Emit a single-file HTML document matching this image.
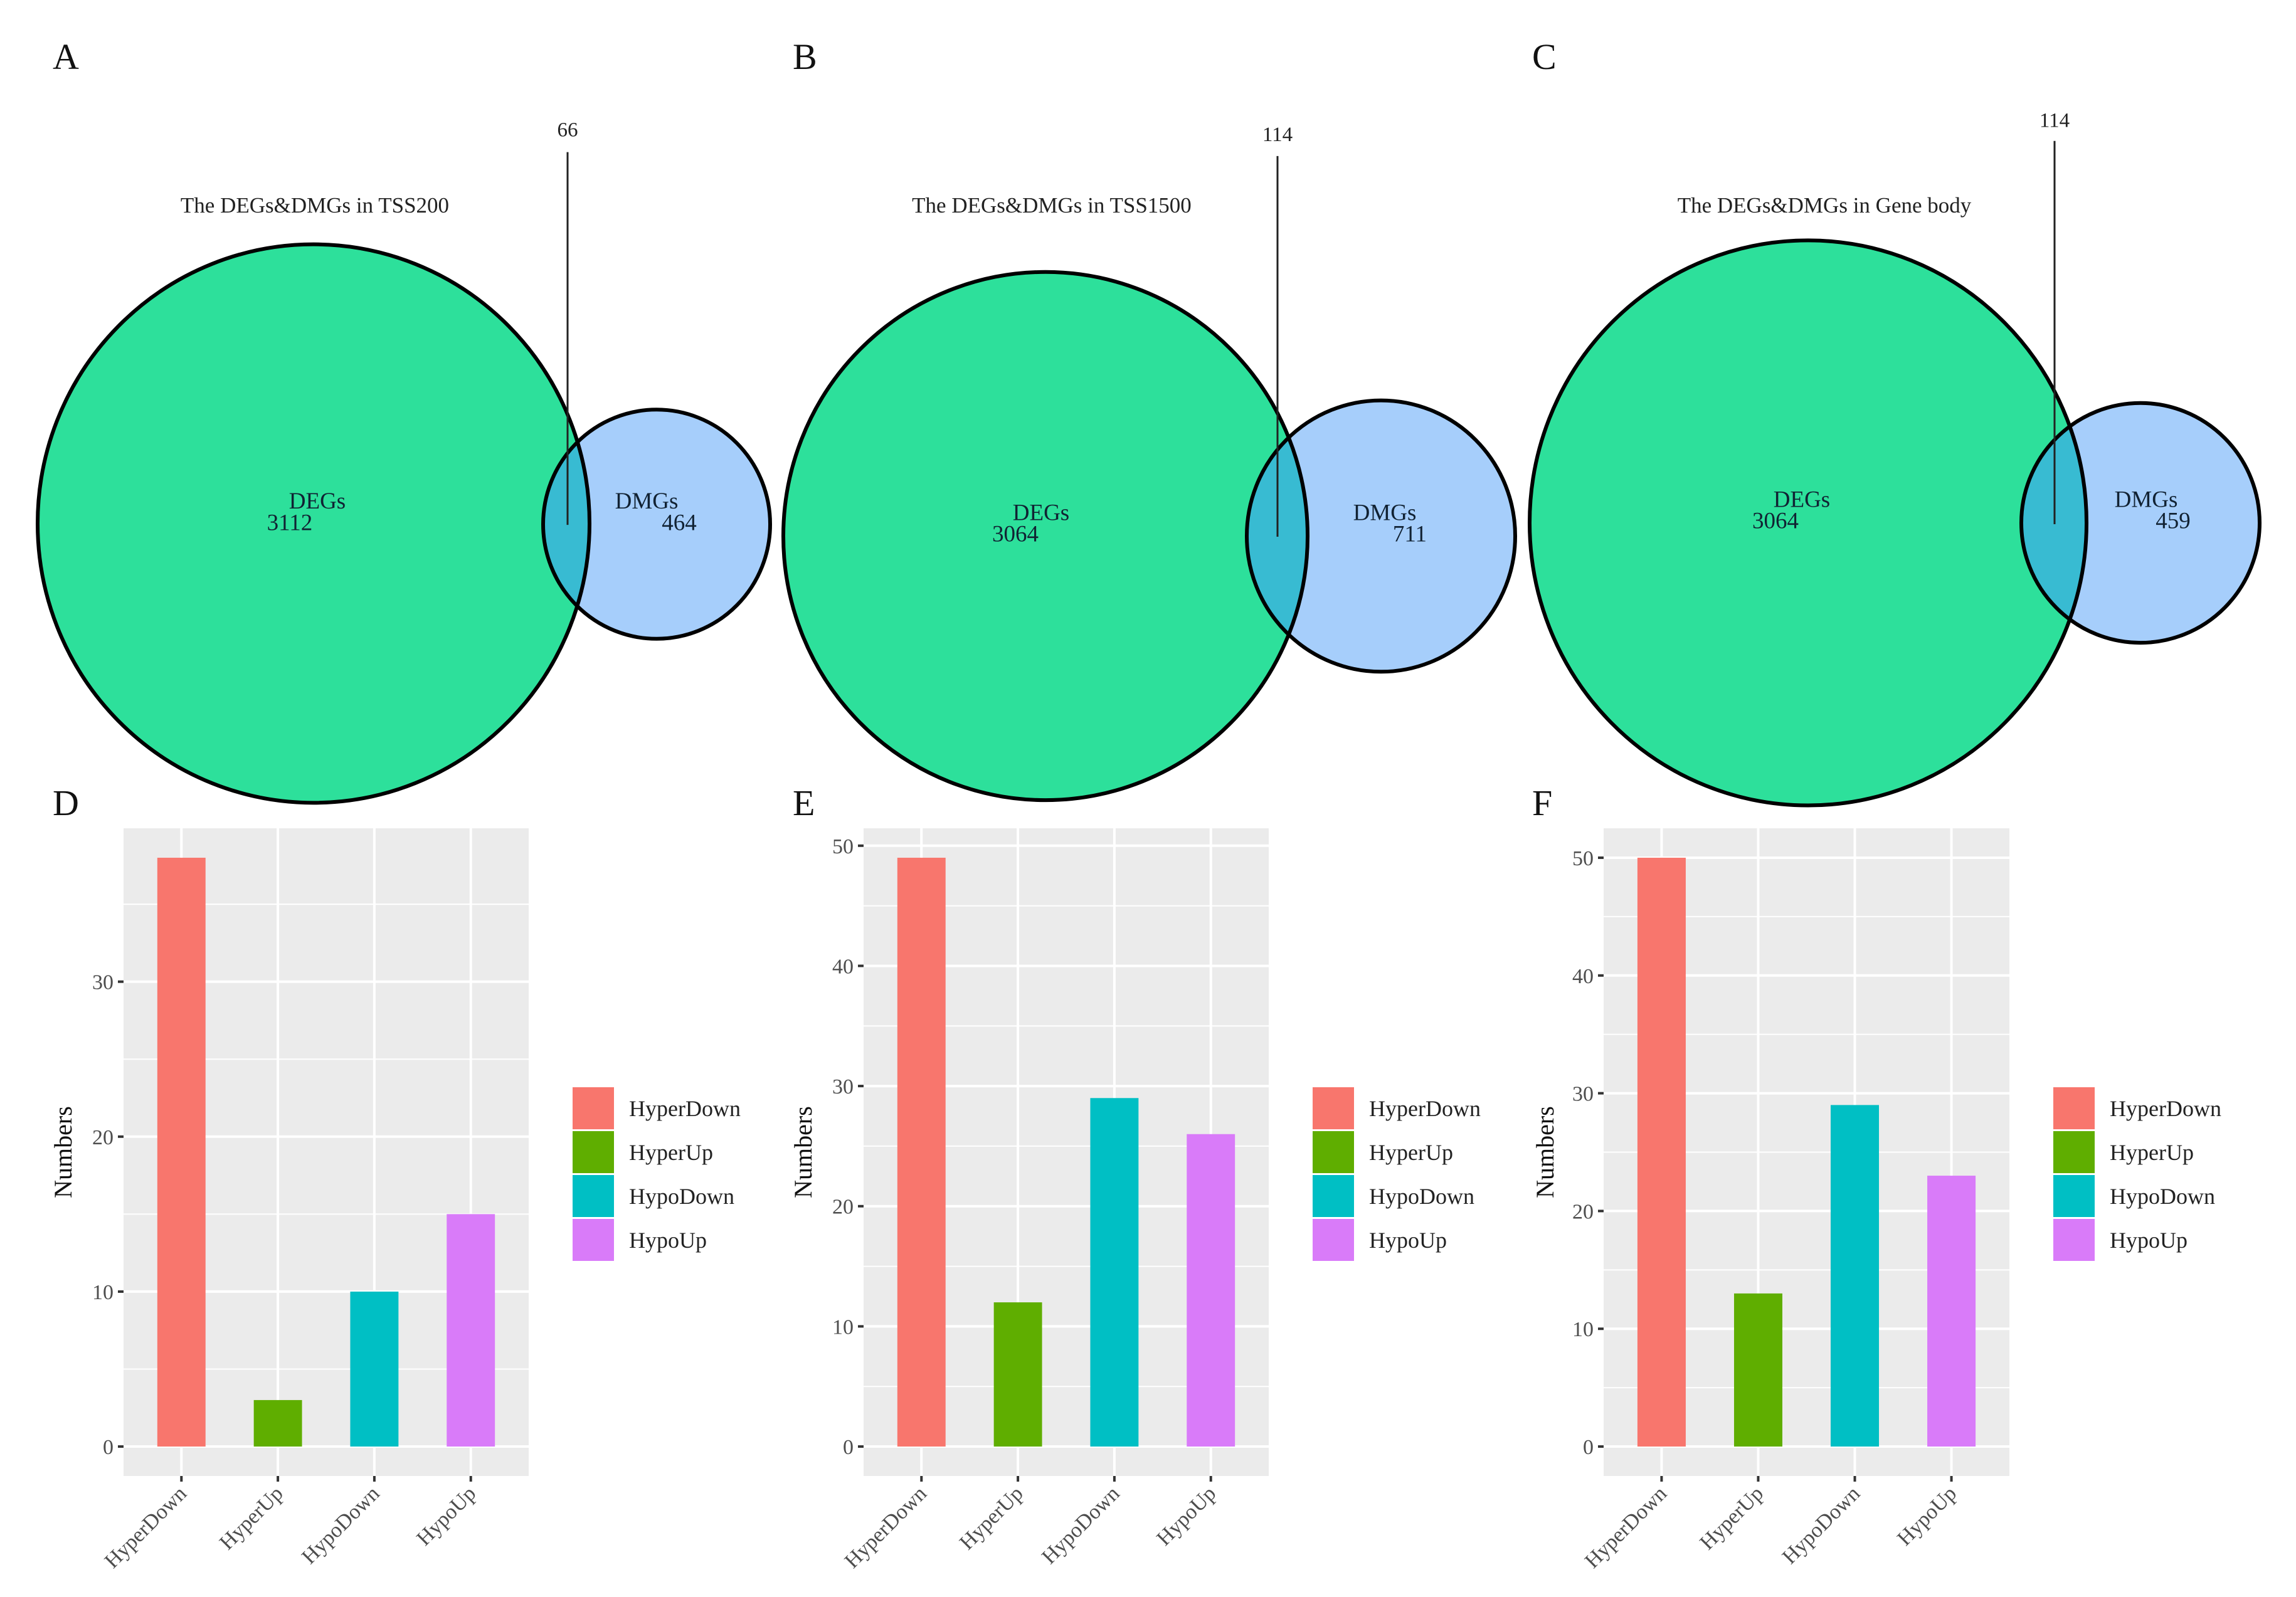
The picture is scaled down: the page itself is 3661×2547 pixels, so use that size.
<!DOCTYPE html>
<html><head><meta charset="utf-8"><style>
html,body{margin:0;padding:0;background:#fff;}
svg{display:block;font-family:"Liberation Serif",serif;}
</style></head><body>
<svg id="fig" width="3661" height="2547" viewBox="0 0 3661 2547" xmlns="http://www.w3.org/2000/svg">
<defs></defs>
</svg>
<script>
// Venn data
const vennTitles = ["The DEGs&DMGs in TSS200", "The DEGs&DMGs in TSS1500", "The DEGs&DMGs in Gene body"];
const vennDEGsOnly = [3112, 3064, 3064];
const vennDMGsOnly = [464, 711, 459];
const vennOverlap = [66, 114, 114];
// Bar data
const categories = ["HyperDown", "HyperUp", "HypoDown", "HypoUp"];
const valuesD = [38, 3, 10, 15];
const valuesE = [49, 12, 29, 26];
const valuesF = [50, 13, 29, 23];
const ticksD = [0, 10, 20, 30];
const ticksE = [0, 10, 20, 30, 40, 50];
const ticksF = [0, 10, 20, 30, 40, 50];
const colors = ["#F8766D", "#5FAE00", "#00BFC4", "#D97BF9"];

const NS = "http://www.w3.org/2000/svg";
const svg = document.getElementById('fig');
const defs = svg.querySelector('defs');
function mk(tag, attrs, parent) {
  const e = document.createElementNS(NS, tag);
  for (const k in attrs) e.setAttribute(k, attrs[k]);
  (parent || svg).appendChild(e);
  return e;
}
function txt(s, attrs, parent) { const t = mk('text', attrs, parent); t.textContent = s; return t; }

// panel letters
const letters = [["A",84,110],["B",1264,110],["C",2443,110],["D",84,1300],["E",1264,1300],["F",2443,1300]];
letters.forEach(l => {
  const t = txt(l[0], {x:l[1], y:l[2], 'font-size':58, fill:'#111'});
  
  
});

const SY = 1.0503;
const vennLayout = [
  {big:[500,795,440,424], small:[1047,796,181,174], line:[905,231,797], num:[905,207], title:[502,323], degs:[506,772], degN:[462,805], dmgs:[1031,772], dmgN:[1083,805]},
  {big:[1667,814,418,401], small:[2202,814,214,206], line:[2037,237,815], num:[2037,214], title:[1677,323], degs:[1660,790], degN:[1619,822], dmgs:[2208,790], dmgN:[2248,822]},
  {big:[2883,794,444,429], small:[3413,794,190,182], line:[3276,214,796], num:[3276,193], title:[2909,323], degs:[2873,770], degN:[2831,802], dmgs:[3422,770], dmgN:[3465,802]}
];
vennLayout.forEach((L, i) => {
  const g = mk('g', {});
  
  
  const bcy = L.big[1]*SY, bry = L.big[3]*SY, scy = L.small[1]*SY, sry = L.small[3]*SY;
  const cp = mk('clipPath', {id:'clip'+i}, defs);
  mk('ellipse', {cx:L.big[0], cy:bcy, rx:L.big[2], ry:bry}, cp);
  const b = mk('ellipse', {cx:L.big[0], cy:bcy, rx:L.big[2], ry:bry, fill:'#2DE09B'}, g);
  
  
  const s = mk('ellipse', {cx:L.small[0], cy:scy, rx:L.small[2], ry:sry, fill:'#A6CEFB'}, g);
  
  
  const o = mk('ellipse', {cx:L.small[0], cy:scy, rx:L.small[2], ry:sry, fill:'#38BBD2', 'clip-path':'url(#clip'+i+')'}, g);
  
  
  mk('ellipse', {cx:L.big[0], cy:bcy, rx:L.big[2], ry:bry, fill:'none', stroke:'#000', 'stroke-width':6}, g);
  mk('ellipse', {cx:L.small[0], cy:scy, rx:L.small[2], ry:sry, fill:'none', stroke:'#000', 'stroke-width':6}, g);
  const ln = mk('line', {x1:L.line[0], y1:L.line[1]*SY, x2:L.line[0], y2:L.line[2]*SY, stroke:'#222', 'stroke-width':3}, g);
  
  
  const n = txt(String(vennOverlap[i]), {x:L.num[0], y:L.num[1]*SY, 'font-size':33, 'text-anchor':'middle', fill:'#222'}, g);
  
  
  const t = txt(vennTitles[i], {x:L.title[0], y:L.title[1]*SY, 'font-size':35, 'text-anchor':'middle', fill:'#222'}, g);
  
  
  const d1 = txt('DEGs', {x:L.degs[0], y:L.degs[1]*SY, 'font-size':37, 'text-anchor':'middle', fill:'#123'}, g);
  
  
  const d2 = txt(String(vennDEGsOnly[i]), {x:L.degN[0], y:L.degN[1]*SY, 'font-size':37, 'text-anchor':'middle', fill:'#123'}, g);
  
  
  const m1 = txt('DMGs', {x:L.dmgs[0], y:L.dmgs[1]*SY, 'font-size':37, 'text-anchor':'middle', fill:'#123'}, g);
  
  
  const m2 = txt(String(vennDMGsOnly[i]), {x:L.dmgN[0], y:L.dmgN[1]*SY, 'font-size':37, 'text-anchor':'middle', fill:'#123'}, g);
  
  
});

// Bar charts
function barChart(name, px, pw, values, ticks, legX, ylabX) {
  const top = 1321, bot = 2354;
  const maxV = Math.max(...values);
  const vmax = maxV * 1.05, vmin = -maxV * 0.05;
  const y = v => bot - (v - vmin) / (vmax - vmin) * (bot - top);
  const step = pw / (categories.length - 1 + 1.2);
  const x = i => px + step * (0.6 + i);
  const g = mk('g', {});
  
  
  const bg = mk('rect', {x:px, y:top, width:pw, height:bot-top, fill:'#EBEBEB'}, g);
  
  
  for (let k = 0; k < ticks.length; k++) {
    const mv = ticks[k] + (ticks[1]-ticks[0]) / 2;
    if (y(mv) > top) mk('line', {x1:px, x2:px+pw, y1:y(mv), y2:y(mv), stroke:'#fff', 'stroke-width':2}, g);
  }
  ticks.forEach(t => {
    mk('line', {x1:px, x2:px+pw, y1:y(t), y2:y(t), stroke:'#fff', 'stroke-width':4}, g);
    mk('line', {x1:px-9, x2:px, y1:y(t), y2:y(t), stroke:'#333', 'stroke-width':4}, g);
    const tl = txt(String(t), {x:px-16, y:y(t)+12, 'font-size':34, 'text-anchor':'end', fill:'#4D4D4D'}, g);
    
    
  });
  categories.forEach((c, i) => {
    mk('line', {x1:x(i), x2:x(i), y1:top, y2:bot, stroke:'#fff', 'stroke-width':4}, g);
    mk('line', {x1:x(i), x2:x(i), y1:bot, y2:bot+9, stroke:'#333', 'stroke-width':4}, g);
    const r = mk('rect', {x:x(i)-step*0.25, y:y(values[i]), width:step*0.5, height:y(0)-y(values[i]), fill:colors[i]}, g);
    
    
    const xl = txt(c, {x:x(i)+10, y:bot+30, 'font-size':34, 'text-anchor':'end', fill:'#4D4D4D', transform:'rotate(-45 '+(x(i)+10)+' '+(bot+30)+')'}, g);
    
    
    const lk = mk('rect', {x:legX, y:1734 + i*70, width:66, height:67, fill:colors[i]}, g);
    
    
    const lt = txt(c, {x:legX+90, y:1780 + i*70, 'font-size':36, fill:'#222'}, g);
    
    
  });
  const cy = (top+bot)/2;
  const yl = txt('Numbers', {x:ylabX, y:cy, 'font-size':40, 'text-anchor':'middle', fill:'#111', transform:'rotate(-90 '+ylabX+' '+cy+')'}, g);
  
  
}
barChart('bar-chart-d', 197, 646, valuesD, ticksD, 913, 114);
barChart('bar-chart-e', 1377, 646, valuesE, ticksE, 2093, 1294);
barChart('bar-chart-f', 2557, 647, valuesF, ticksF, 3274, 2477);
</script>
</body></html>
